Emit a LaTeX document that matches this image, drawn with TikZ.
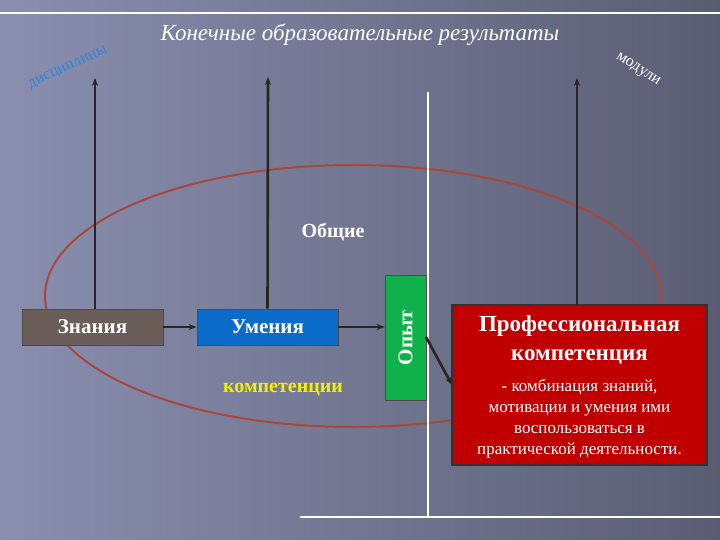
\documentclass[tikz,border=0pt]{standalone}
\usepackage{fontspec}
\setmainfont{Liberation Serif}
\usetikzlibrary{arrows.meta}
\definecolor{bgA}{HTML}{8A8FB0}
\definecolor{bgB}{HTML}{5A5D72}
\definecolor{ell}{HTML}{A8483A}
\definecolor{zn}{HTML}{6B5E58}
\definecolor{um}{HTML}{0B6BC8}
\definecolor{op}{HTML}{10B04A}
\definecolor{pr}{HTML}{C00000}
\definecolor{yel}{HTML}{F2F200}
\definecolor{lblue}{HTML}{2E86D8}
\tikzset{
 box/.style={draw=black!70,line width=0.8pt,text=white,font=\bfseries\fontsize{21}{23}\selectfont,inner sep=0pt},
 arr/.style={-{Stealth[length=8pt,width=6pt]},line width=2.6pt,draw=black!85},
 wline/.style={draw=white,line width=2.5pt}
}
\begin{document}
\begin{tikzpicture}[x=1pt,y=-1pt]
\useasboundingbox (0,0) rectangle (720,540);
\shade[left color=bgA,right color=bgB] (0,0) rectangle (720,540);
\draw[wline] (0,13) -- (720,13);
\node[text=white,font=\itshape\fontsize{23}{25}\selectfont] (title) at (360,35) {Конечные образовательные результаты};
\node[text=lblue,rotate=25,font=\fontsize{16}{18}\selectfont] (dis) at (68,68) {дисциплины};
\node[text=white,rotate=-32,font=\fontsize{16}{18}\selectfont] (mod) at (638,70) {модули};
\draw[ell,line width=2pt] (353,296) ellipse [x radius=308,y radius=131];
\coordinate (vt) at (428,92); \coordinate (vb) at (428,517); \coordinate (hl) at (300,517); \coordinate (hr) at (720,517);
\draw[wline] (vt) -- (vb); \draw[wline] (hl) -- (hr);
\node[box,fill=zn,minimum width=141pt,minimum height=36pt] (zn) at (92.5,327) {Знания};
\node[box,fill=um,minimum width=141pt,minimum height=36pt] (um) at (267.5,327) {Умения};
\node[box,fill=op,minimum width=41pt,minimum height=125pt] (op) at (405.5,337.5) {};
\node[text=white,font=\bfseries\fontsize{21}{23}\selectfont,rotate=90] (opt) at (op.center) {Опыт};
\node[box,fill=pr,minimum width=255pt,minimum height=160pt,draw=black!80,line width=1.2pt] (pr) at (579.5,385) {};
\node[text=white,font=\bfseries\fontsize{23}{29}\selectfont,align=center] (prt) at (579.5,340) {Профессиональная\\компетенция};
\node[text=white,font=\fontsize{17}{21}\selectfont,align=center] (prd) at (579.5,419) {- комбинация знаний,\\мотивации и умения ими\\воспользоваться в\\практической деятельности.};
\node[text=white,font=\bfseries\fontsize{20}{22}\selectfont] (ob) at (333,232) {Общие};
\node[text=yel,font=\bfseries\fontsize{20}{22}\selectfont] (komp) at (283,390) {компетенции};
\coordinate (a1) at (95,78); \coordinate (a2) at (268,77); \coordinate (a3) at (577,78);
\draw[arr] (95,309) -- (a1);
\draw[arr] (um.north) -- (a2);
\draw[arr] (577,305) -- (a3);
\draw[arr] (zn.east) -- (um.west);
\draw[arr] (um.east) -- (op.west |- um.east);
\draw[arr] (426,337) -- (452,385);
\end{tikzpicture}
\end{document}
